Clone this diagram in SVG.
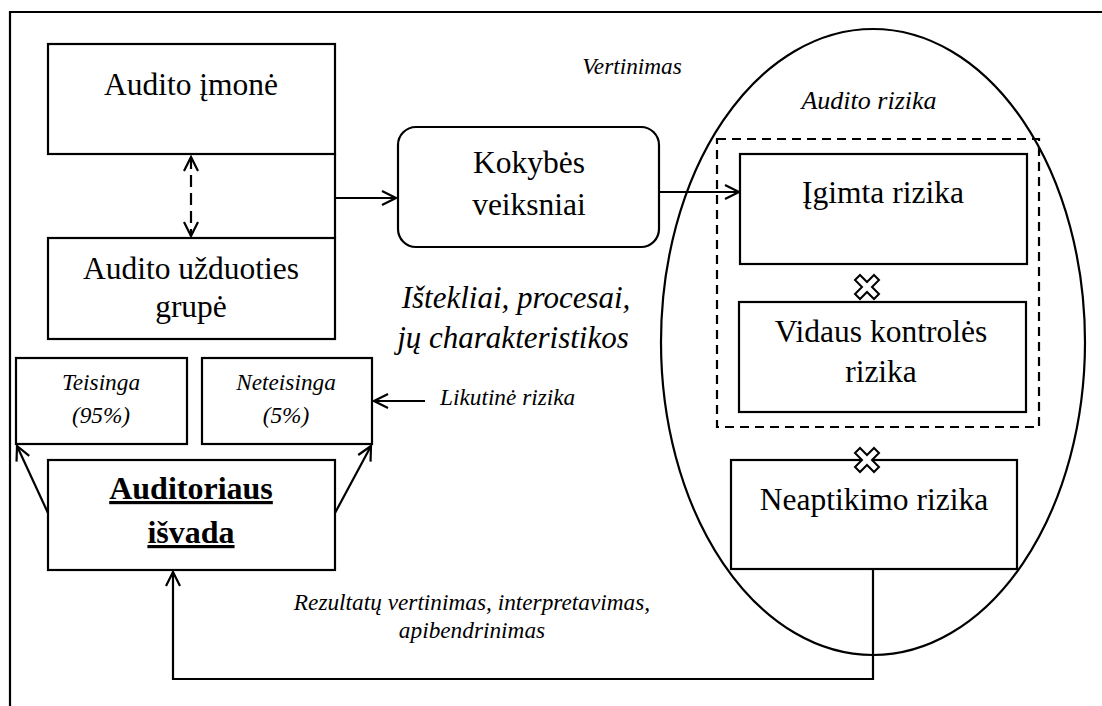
<svg xmlns="http://www.w3.org/2000/svg" width="1102" height="706" viewBox="0 0 1102 706">
<defs>
<style>
.box{fill:#fff;stroke:#000;stroke-width:2.2}
.ln{fill:none;stroke:#000;stroke-width:2.2}
text{font-family:'Liberation Serif','Times New Roman',serif;fill:#000;text-anchor:middle}
.big{font-size:31.5px}
.it{font-style:italic;font-size:23.3px}
.mid{font-style:italic;font-size:31px}
.bold{font-weight:bold;font-size:32px;text-decoration:underline}
</style>
<marker id="ah" viewBox="0 0 20 20" refX="18" refY="10" markerWidth="20" markerHeight="20" markerUnits="userSpaceOnUse" orient="auto-start-reverse">
<path d="M4,3 L18,10 L4,17" fill="none" stroke="#000" stroke-width="2.2"/>
</marker>
<polygon id="cross" points="-12,-7 -7,-12 0,-5 7,-12 12,-7 5,0 12,7 7,12 0,5 -7,12 -12,7 -5,0" fill="#fff" stroke="#000" stroke-width="2"/>
</defs>
<rect width="1102" height="706" fill="#fff"/>
<g id="frame">
<path class="ln" d="M10,706 L10,12 L1102,12"/>
</g>
<g id="audit-risk-ellipse">
<ellipse cx="873" cy="342" rx="212" ry="313" class="ln"/>
<text class="it" x="869" y="109" style="font-size:26px">Audito rizika</text>
</g>
<g id="risk-group">
<rect x="717" y="139" width="322" height="288" fill="none" stroke="#000" stroke-width="2.2" stroke-dasharray="9,6"/>
</g>
<g id="audito-imone">
<rect class="box" x="48" y="44" width="287" height="110"/>
<text class="big" x="191" y="95">Audito įmonė</text>
</g>
<g id="audito-grupe">
<rect class="box" x="48" y="238" width="287" height="101"/>
<text class="big" x="191" y="279">Audito užduoties</text>
<text class="big" x="191" y="317">grupė</text>
</g>
<g id="teisinga">
<rect class="box" x="16" y="358" width="171" height="86"/>
<text class="it" x="101" y="390">Teisinga</text>
<text class="it" x="101" y="423">(95%)</text>
</g>
<g id="neteisinga">
<rect class="box" x="202" y="358" width="170" height="86"/>
<text class="it" x="286" y="390">Neteisinga</text>
<text class="it" x="286" y="423">(5%)</text>
</g>
<g id="isvada">
<rect class="box" x="48" y="460" width="287" height="110"/>
<text class="bold" x="191" y="499">Auditoriaus</text>
<text class="bold" x="191" y="543">išvada</text>
</g>
<g id="kokybes">
<rect class="box" x="398" y="127" width="261" height="120" rx="18" ry="18"/>
<text class="big" x="529" y="173">Kokybės</text>
<text class="big" x="529" y="215">veiksniai</text>
</g>
<g id="igimta">
<rect class="box" x="740" y="154" width="287" height="110"/>
<text class="big" x="883" y="203">Įgimta rizika</text>
</g>
<g id="vidaus">
<rect class="box" x="739" y="302" width="287" height="110"/>
<text class="big" x="881" y="342">Vidaus kontrolės</text>
<text class="big" x="881" y="382">rizika</text>
</g>
<g id="neaptikimo">
<rect class="box" x="731" y="460" width="286" height="109"/>
<text class="big" x="874" y="510">Neaptikimo rizika</text>
</g>
<g id="labels">
<text class="it" x="632" y="74">Vertinimas</text>
<text class="mid" x="516" y="308">Ištekliai, procesai,</text>
<text class="mid" x="513" y="348">jų charakteristikos</text>
<text class="it" x="440" y="405" style="text-anchor:start">Likutinė rizika</text>
<text class="it" x="472" y="610">Rezultatų vertinimas, interpretavimas,</text>
<text class="it" x="472" y="638">apibendrinimas</text>
</g>
<g id="connectors">
<line class="ln" x1="191" y1="157" x2="191" y2="236" stroke-dasharray="12,6" marker-start="url(#ah)" marker-end="url(#ah)"/>
<line class="ln" x1="335" y1="154" x2="335" y2="238"/>
<line class="ln" x1="335" y1="198" x2="396" y2="198" marker-end="url(#ah)"/>
<line class="ln" x1="659" y1="192" x2="739" y2="192" marker-end="url(#ah)"/>
<line class="ln" x1="48" y1="513" x2="17" y2="446" marker-end="url(#ah)"/>
<line class="ln" x1="335" y1="513" x2="371" y2="446" marker-end="url(#ah)"/>
<line class="ln" x1="425" y1="401" x2="374" y2="401" marker-end="url(#ah)"/>
<path class="ln" d="M873,569 L873,679 L173,679 L173,572" marker-end="url(#ah)"/>
<use href="#cross" x="867" y="287"/>
<use href="#cross" x="867" y="460"/>
</g>
</svg>
